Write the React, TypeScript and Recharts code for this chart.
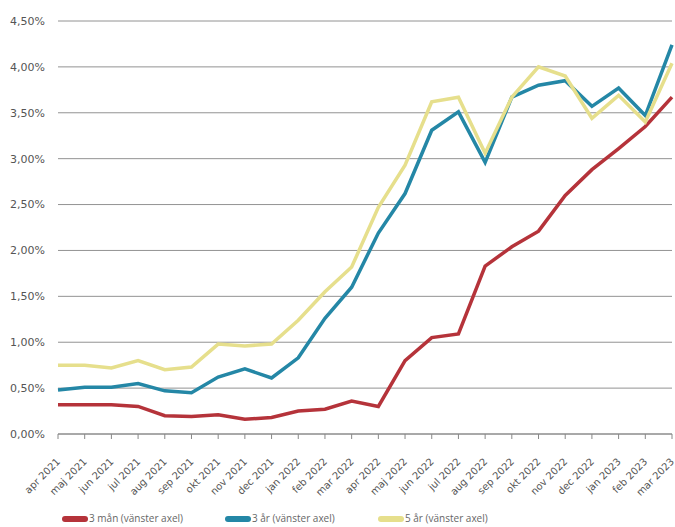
import React from 'react';
import { LineChart, Line, XAxis, YAxis, CartesianGrid, Legend } from 'recharts';

const months = [
  'apr 2021', 'maj 2021', 'jun 2021', 'jul 2021', 'aug 2021', 'sep 2021',
  'okt 2021', 'nov 2021', 'dec 2021', 'jan 2022', 'feb 2022', 'mar 2022',
  'apr 2022', 'maj 2022', 'jun 2022', 'jul 2022', 'aug 2022', 'sep 2022',
  'okt 2022', 'nov 2022', 'dec 2022', 'jan 2023', 'feb 2023', 'mar 2023',
];

const threeMonths = [
  0.32, 0.32, 0.32, 0.3, 0.2, 0.19, 0.21, 0.16, 0.18, 0.25, 0.27, 0.36,
  0.3, 0.8, 1.05, 1.09, 1.83, 2.04, 2.21, 2.6, 2.88, 3.11, 3.35, 3.67,
];

const threeYears = [
  0.48, 0.51, 0.51, 0.55, 0.47, 0.45, 0.62, 0.71, 0.61, 0.83, 1.26, 1.6,
  2.19, 2.62, 3.31, 3.51, 2.96, 3.67, 3.8, 3.85, 3.57, 3.77, 3.47, 4.24,
];

const fiveYears = [
  0.75, 0.75, 0.72, 0.8, 0.7, 0.73, 0.98, 0.96, 0.98, 1.24, 1.55, 1.82,
  2.47, 2.93, 3.62, 3.67, 3.06, 3.67, 4.0, 3.9, 3.44, 3.69, 3.4, 4.04,
];

const yTicks = [0, 0.5, 1, 1.5, 2, 2.5, 3, 3.5, 4, 4.5];

const data = months.map((m, i) => ({
  month: m,
  m3: threeMonths[i],
  y3: threeYears[i],
  y5: fiveYears[i],
}));

const RED = '#b5333a';
const BLUE = '#2487a6';
const YELLOW = '#e6df8c';
const FONT = '"DejaVu Sans", Verdana, sans-serif';
const LEGEND_FONT = '"Open Sans", sans-serif';

// legend entries, with left edge of each swatch
const legendItems = [
  { label: '3 mån (vänster axel)', color: RED, left: 62 },
  { label: '3 år (vänster axel)', color: BLUE, left: 225 },
  { label: '5 år (vänster axel)', color: YELLOW, left: 378 },
];

function ChartLegend() {
  return (
    <div style={{ position: 'relative', height: 13, fontFamily: LEGEND_FONT, fontSize: 10, color: '#666' }}>
      {legendItems.map((it) => (
        <div
          key={it.label}
          style={{ position: 'absolute', left: it.left, top: 0, display: 'flex', alignItems: 'center', whiteSpace: 'nowrap', lineHeight: '13px' }}
        >
          <span style={{ width: 26, height: 6, borderRadius: 3, background: it.color, marginRight: 1 }} />
          <span>{it.label}</span>
        </div>
      ))}
    </div>
  );
}

function MonthTick({ x, y, payload }: { x?: number; y?: number; payload?: { value: string } }) {
  return (
    <text
      x={x}
      y={y}
      dy={17}
      dx={-13}
      textAnchor="end"
      transform={`rotate(-45, ${x}, ${y})`}
      fill="#555"
      fontSize={10}
      fontFamily={FONT}
    >
      {payload?.value}
    </text>
  );
}

export default function App() {
  return (
    <div style={{ width: 675, height: 527, background: '#fff' }}>
      <style>{'body{margin:0}'}</style>
      <LineChart width={675} height={527} data={data} margin={{ top: 21, right: 3, left: 0, bottom: 0 }}>
        <CartesianGrid vertical={false} stroke="#929292" />
        <XAxis
          dataKey="month"
          interval={0}
          height={80}
          stroke="#888"
          tickSize={5}
          tick={<MonthTick />}
        />
        <YAxis
          width={58}
          domain={[0, 4.5]}
          ticks={yTicks}
          axisLine={false}
          tickLine={false}
          tickFormatter={(v: number) => v.toFixed(2).replace('.', ',') + '%'}
          tick={{ fill: '#555', fontSize: 11, fontFamily: FONT, dx: -5 }}
        />
        <Legend verticalAlign="bottom" align="left" content={<ChartLegend />} wrapperStyle={{ bottom: 2, left: 0, width: 675 }} />
        <Line dataKey="m3" stroke={RED} strokeWidth={3.5} dot={false} isAnimationActive={false} />
        <Line dataKey="y3" stroke={BLUE} strokeWidth={3.5} dot={false} isAnimationActive={false} />
        <Line dataKey="y5" stroke={YELLOW} strokeWidth={3.5} dot={false} isAnimationActive={false} />
      </LineChart>
    </div>
  );
}
